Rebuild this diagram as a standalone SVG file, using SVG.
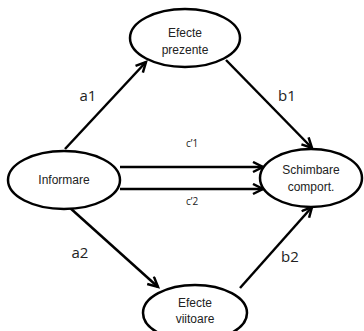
<svg xmlns="http://www.w3.org/2000/svg" width="364" height="331" viewBox="0 0 364 331">
<style>
.node ellipse{fill:#fff;stroke:#000;stroke-width:2.5}
.nt{font-family:"Liberation Sans",Arial,sans-serif;font-size:12px;fill:#222;text-anchor:middle}
.lbl{font-family:"Open Sans","Liberation Sans",sans-serif;font-size:15px;fill:#222;text-anchor:middle}
.sl{font-family:"Open Sans","Liberation Sans",sans-serif;font-size:10px;fill:#222;text-anchor:middle}
.edge{stroke:#000;stroke-width:2.5;fill:none;marker-end:url(#ah)}
</style>
<defs>
<marker id="ah" markerUnits="userSpaceOnUse" markerWidth="14" markerHeight="14" refX="11" refY="6" orient="auto">
<path d="M1,1 L11,6 L1,11" fill="none" stroke="#000" stroke-width="2.5"/>
</marker>
</defs>
<g id="connectors">
<line class="edge" x1="65" y1="149" x2="146" y2="62"/>
<line class="edge" x1="226" y1="60" x2="312" y2="148"/>
<line class="edge" x1="120" y1="167" x2="263" y2="167"/>
<line class="edge" x1="120" y1="189" x2="263" y2="189"/>
<line class="edge" x1="69" y1="207" x2="158" y2="287"/>
<line class="edge" x1="240" y1="288" x2="312" y2="207"/>
</g>
<g id="labels">
<text class="lbl" x="88" y="101">a1</text>
<text class="lbl" x="287" y="101">b1</text>
<text class="sl" x="192" y="147">c’1</text>
<text class="sl" x="192" y="205">c’2</text>
<text class="lbl" x="80" y="258">a2</text>
<text class="lbl" x="290" y="262">b2</text>
</g>
<g id="efecte-prezente" class="node">
<ellipse cx="185" cy="38" rx="55" ry="29"/>
<text class="nt" x="185" y="37">Efecte</text>
<text class="nt" x="185" y="54">prezente</text>
</g>
<g id="informare" class="node">
<ellipse cx="64" cy="180" rx="56" ry="29"/>
<text class="nt" x="64" y="184">Informare</text>
</g>
<g id="schimbare" class="node">
<ellipse cx="311" cy="178" rx="51" ry="29"/>
<text class="nt" x="311" y="174">Schimbare</text>
<text class="nt" x="311" y="191">comport.</text>
</g>
<g id="efecte-viitoare" class="node">
<ellipse cx="195" cy="313" rx="52" ry="28"/>
<text class="nt" x="195" y="307">Efecte</text>
<text class="nt" x="195" y="323">viitoare</text>
</g>
</svg>
